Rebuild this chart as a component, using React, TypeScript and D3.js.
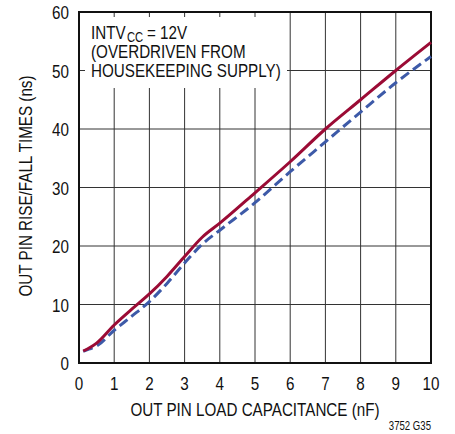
import React, { useEffect, useRef } from 'react';
import * as d3 from 'd3';

// rise/fall time vs load capacitance
const capNf = [0.12, 0.3, 0.5, 1, 1.5, 2, 2.5, 3, 3.5, 4, 5, 6, 7, 8, 9, 10];
const riseNs = [2.05, 2.6, 3.4, 6.5, 9.2, 11.8, 14.8, 18.2, 21.5, 23.9, 29.1, 34.4, 40, 45, 50, 54.8];
const fallNs = [2.0, 2.4, 2.9, 5.6, 8.0, 10.5, 13.6, 17.1, 20.3, 22.7, 27.4, 32.7, 37.8, 42.9, 47.9, 52.4];

const xTicks = [0, 1, 2, 3, 4, 5, 6, 7, 8, 9, 10];
const yTicks = [0, 10, 20, 30, 40, 50, 60];

const FONT = '"Liberation Sans", Arial, sans-serif';
const SQUEEZE = 0.8; // reference uses a condensed face

const W = 455;
const H = 434;
const margin = { top: 12, right: 24, bottom: 71, left: 79 };

// text that gets squeezed to a condensed width after mount
const Cond = ({ x, y, anchor = 'start', size = 19, children }: any) => (
  <text className="cond" x={x} y={y} fontSize={size} textAnchor={anchor} fill="#111">
    {children}
  </text>
);

export default function App() {
  const svgRef = useRef<SVGSVGElement>(null);

  const x = d3.scaleLinear().domain([0, 10]).range([margin.left, W - margin.right]);
  const y = d3.scaleLinear().domain([0, 60]).range([H - margin.bottom, margin.top]);

  const line = (vals: number[]) =>
    d3.line<number>()
      .x((_, i) => x(capNf[i]))
      .y(d => y(d))
      .curve(d3.curveMonotoneX)(vals) || '';

  // condense every label by fitting it to a shorter textLength
  useEffect(() => {
    if (!svgRef.current) return;
    d3.select(svgRef.current)
      .selectAll<SVGTextElement, unknown>('text.cond')
      .each(function () {
        const len = this.getComputedTextLength();
        d3.select(this)
          .attr('textLength', len * SQUEEZE)
          .attr('lengthAdjust', 'spacingAndGlyphs');
      });
  }, []);

  // white box behind the note, grid is cut there
  const boxRight = 287;
  const boxBottom = 88;

  return (
    <svg
      ref={svgRef}
      width={W}
      height={H}
      style={{ position: 'absolute', left: 0, top: 0, background: '#fff' }}
      fontFamily={FONT}
    >
      {/* grid */}
      <g stroke="#333" strokeWidth={1}>
        {xTicks.slice(1, -1).map(t => (
          <line key={'vx' + t} x1={x(t)} x2={x(t)} y1={y(60)} y2={y(0)} />
        ))}
        {yTicks.slice(1, -1).map(t => (
          <line key={'hy' + t} x1={x(0)} x2={x(10)} y1={y(t)} y2={y(t)} />
        ))}
      </g>

      <rect x={x(0)} y={y(60)} width={boxRight - x(0)} height={boxBottom - y(60)} fill="#fff" />

      {/* inner ticks left visible inside the note box */}
      <g stroke="#333" strokeWidth={1}>
        {xTicks.slice(1, -1).filter(t => x(t) < boxRight).map(t => (
          <line key={'tt' + t} x1={x(t)} x2={x(t)} y1={y(60)} y2={y(60) + 5} />
        ))}
        {yTicks.slice(1, -1).filter(t => y(t) < boxBottom).map(t => (
          <line key={'tl' + t} x1={x(0)} x2={x(0) + 6} y1={y(t)} y2={y(t)} />
        ))}
      </g>

      {/* frame */}
      <rect
        x={x(0)}
        y={y(60)}
        width={x(10) - x(0)}
        height={y(0) - y(60)}
        fill="none"
        stroke="#111"
        strokeWidth={2}
      />

      {/* curves */}
      <path d={line(fallNs)} fill="none" stroke="#3d5aa8" strokeWidth={3} strokeDasharray="10,5" />
      <path d={line(riseNs)} fill="none" stroke="#9b0b35" strokeWidth={3} />

      {/* note (subscript placed as its own text) */}
      <Cond x={91} y={39}>INTV</Cond>
      <Cond x={127} y={42} size={14}>CC</Cond>
      <Cond x={147} y={39}>= 12V</Cond>
      <Cond x={91} y={58}>(OVERDRIVEN FROM</Cond>
      <Cond x={91} y={77}>HOUSEKEEPING SUPPLY)</Cond>

      {/* tick labels */}
      {xTicks.map(t => (
        <Cond key={'xl' + t} x={x(t)} y={390} anchor="middle">{t}</Cond>
      ))}
      {yTicks.map(t => (
        <Cond key={'yl' + t} x={69} y={y(t) + 7} anchor="end">{t}</Cond>
      ))}

      {/* axis titles */}
      <Cond x={255} y={416} anchor="middle">OUT PIN LOAD CAPACITANCE (nF)</Cond>
      <g transform="translate(32,186) rotate(-90)">
        <Cond x={0} y={0} anchor="middle">OUT PIN RISE/FALL TIMES (ns)</Cond>
      </g>

      <Cond x={431} y={430} size={12} anchor="end">3752 G35</Cond>
    </svg>
  );
}
